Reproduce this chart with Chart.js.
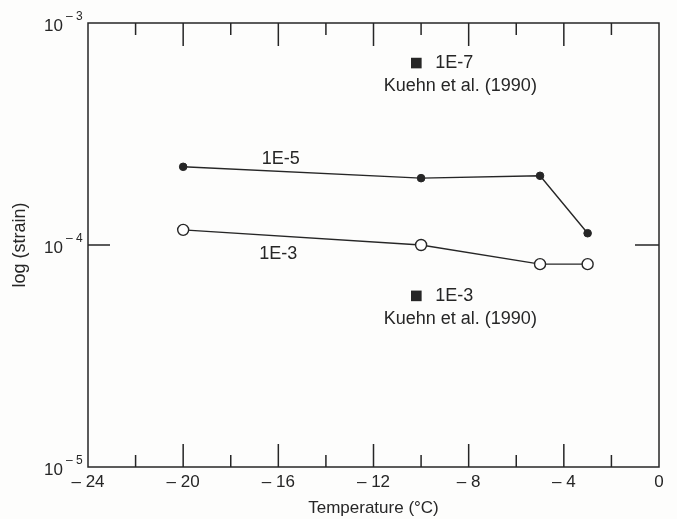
<!DOCTYPE html>
<html><head><meta charset="utf-8">
<script src="https://cdn.jsdelivr.net/npm/chart.js@4.4.1/dist/chart.umd.min.js"></script>
<style>html,body{margin:0;padding:0;background:#fdfdfc}#wrap{width:677px;height:519px}</style>
</head><body><div id="wrap"><canvas id="c"></canvas></div>
<script>
// ---- data ----
const temps = [-20, -10, -5, -3];
const strain1E5 = [2.25e-4, 2.0e-4, 2.05e-4, 1.13e-4];
const strain1E3 = [1.17e-4, 1.0e-4, 8.2e-5, 8.2e-5];
const seriesNames = ['1E-5', '1E-3'];
const seriesLabelTemp = [-15.9, -16];
const seriesLabelStrain = [2.44e-4, 9.1e-5];
const kuehnTemp = [-10.2, -10.2];
const kuehnStrain = [6.6e-4, 5.9e-5];
const kuehnRates = ['1E-7', '1E-3'];
const kuehnSource = 'Kuehn et al. (1990)';
const xTickLabels = [-24, -20, -16, -12, -8, -4, 0];
const xMajorTicks = [-20, -16, -12, -8, -4];
const xMinorTicks = [-22, -18, -14, -10, -6, -2];
const yTickExponents = [-3, -4, -5];
const yInnerTicks = [1e-4];
const xTitle = 'Temperature (\u00b0C)';
const yTitle = 'log (strain)';

const FONT = '"Liberation Sans", Arial, Helvetica, sans-serif';
const INK = '#262626';

const pts = (xs, ys) => xs.map((x, i) => ({x, y: ys[i]}));

const decor = {
  id: 'decor',
  afterDatasetsDraw(chart) {
    const {ctx, chartArea: a, scales: {x, y}} = chart;
    ctx.save();
    ctx.strokeStyle = INK;
    ctx.lineWidth = 1.5;
    ctx.strokeRect(a.left, a.top, a.right - a.left, a.bottom - a.top);
    ctx.beginPath();
    const tick = (v, len) => {
      const px = x.getPixelForValue(v);
      ctx.moveTo(px, a.top); ctx.lineTo(px, a.top + len);
      ctx.moveTo(px, a.bottom); ctx.lineTo(px, a.bottom - len);
    };
    xMajorTicks.forEach(v => tick(v, 23));
    xMinorTicks.forEach(v => tick(v, 12));
    yInnerTicks.forEach(v => {
      const py = y.getPixelForValue(v);
      ctx.moveTo(a.left, py); ctx.lineTo(a.left + 22, py);
      ctx.moveTo(a.right, py); ctx.lineTo(a.right - 24, py);
    });
    ctx.stroke();

    // y tick labels with superscripts
    ctx.fillStyle = INK;
    ctx.textBaseline = 'middle';
    yTickExponents.forEach(e => {
      const py = y.getPixelForValue(Math.pow(10, e));
      ctx.font = '17px ' + FONT;
      ctx.textAlign = 'right';
      ctx.fillText('10', a.left - 25, py + 3);
      ctx.font = '12px ' + FONT;
      ctx.textAlign = 'left';
      ctx.fillText('\u2013 ' + Math.abs(e), a.left - 22, py - 6);
    });

    // series labels
    ctx.font = '18px ' + FONT;
    ctx.textAlign = 'center';
    seriesNames.forEach((n, i) => {
      ctx.fillText(n, x.getPixelForValue(seriesLabelTemp[i]), y.getPixelForValue(seriesLabelStrain[i]));
    });
    // Kuehn labels
    kuehnRates.forEach((r, i) => {
      const px = x.getPixelForValue(kuehnTemp[i]);
      const py = y.getPixelForValue(kuehnStrain[i]);
      ctx.textAlign = 'left';
      ctx.fillText(r, px + 19, py);
      ctx.textAlign = 'center';
      ctx.fillText(kuehnSource, px + 44, py + 23);
    });
    ctx.restore();
  }
};

new Chart(document.getElementById('c'), {
  type: 'scatter',
  data: {
    datasets: [
      {label: seriesNames[0], data: pts(temps, strain1E5), showLine: true,
       borderColor: INK, borderWidth: 1.4, pointRadius: 3.8, pointBackgroundColor: INK,
       pointBorderColor: INK, pointBorderWidth: 1},
      {label: seriesNames[1], data: pts(temps, strain1E3), showLine: true,
       borderColor: INK, borderWidth: 1.4, pointRadius: 5.5, pointBackgroundColor: '#fff',
       pointBorderColor: INK, pointBorderWidth: 1.4},
      {label: kuehnSource, data: pts(kuehnTemp, kuehnStrain), showLine: false,
       pointStyle: 'rect', pointRadius: 7.5, pointBackgroundColor: INK, pointBorderColor: INK, pointBorderWidth: 0}
    ]
  },
  options: {
    responsive: true, maintainAspectRatio: false, animation: false,
    layout: {padding: {top: 23, right: 18, left: 0, bottom: 0}},
    plugins: {legend: {display: false}, tooltip: {enabled: false}},
    scales: {
      x: {
        type: 'linear', min: -24, max: 0, position: 'bottom',
        grid: {display: false, drawTicks: false}, border: {display: false},
        afterBuildTicks: s => { s.ticks = xTickLabels.map(v => ({value: v})); },
        afterFit: s => { s.height = 52; },
        ticks: {
          autoSkip: false, maxRotation: 0, padding: 5, color: INK,
          font: {size: 17, family: FONT},
          callback: v => v === 0 ? '0' : '\u2013 ' + Math.abs(v)
        },
        title: {display: true, text: xTitle, color: INK, font: {size: 17, family: FONT}, padding: {top: 0, bottom: 0}}
      },
      y: {
        type: 'logarithmic', min: 1e-5, max: 1e-3, position: 'left',
        grid: {display: false, drawTicks: false}, border: {display: false},
        ticks: {display: false},
        afterFit: s => { s.width = 88; },
        title: {display: true, text: yTitle, color: INK, font: {size: 18, family: FONT}, padding: {top: 9, bottom: 0}}
      }
    }
  },
  plugins: [decor]
});
</script>
</body></html>
